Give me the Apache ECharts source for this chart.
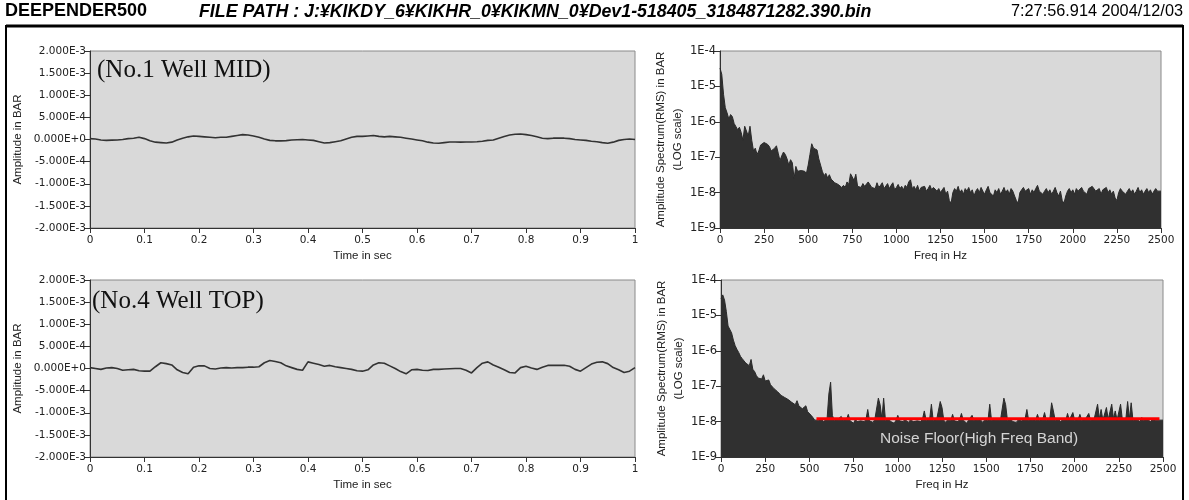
<!DOCTYPE html>
<html><head><meta charset="utf-8">
<script src="https://cdn.jsdelivr.net/npm/echarts@6/dist/echarts.min.js"></script>
<style>html,body{margin:0;padding:0;background:#fff}#c{width:1189px;height:500px}</style>
</head><body><div id="c"></div>
<script>
// ---------- DATA ----------
const headerTitle = 'DEEPENDER500';
const headerPath = 'FILE PATH : J:¥KIKDY_6¥KIKHR_0¥KIKMN_0¥Dev1-518405_3184871282.390.bin';
const headerTime = '7:27:56.914 2004/12/03';
const panelLabels = ['(No.1 Well MID)', '(No.4 Well TOP)'];
const noiseFloorText = 'Noise Floor(High Freq Band)';

const timeSec = [0,0.01,0.02,0.03,0.04,0.05,0.06,0.07,0.08,0.09,
 0.10,0.11,0.12,0.13,0.14,0.15,0.16,0.17,0.18,0.19,
 0.20,0.21,0.22,0.23,0.24,0.25,0.26,0.27,0.28,0.29,
 0.30,0.31,0.32,0.33,0.34,0.35,0.36,0.37,0.38,0.39,
 0.40,0.41,0.42,0.43,0.44,0.45,0.46,0.47,0.48,0.49,
 0.50,0.51,0.52,0.53,0.54,0.55,0.56,0.57,0.58,0.59,
 0.60,0.61,0.62,0.63,0.64,0.65,0.66,0.67,0.68,0.69,
 0.70,0.71,0.72,0.73,0.74,0.75,0.76,0.77,0.78,0.79,
 0.80,0.81,0.82,0.83,0.84,0.85,0.86,0.87,0.88,0.89,
 0.90,0.91,0.92,0.93,0.94,0.95,0.96,0.97,0.98,0.99,1.00];

// amplitude in BAR
const ampMid = [2e-5,1e-5,-1e-5,-2e-5,-1.5e-5,-1e-5,0,2e-5,3e-5,5e-5,
 2e-5,-3e-5,-6e-5,-7e-5,-8e-5,-6e-5,-1e-5,3e-5,6e-5,8e-5,
 7e-5,6e-5,5e-5,4e-5,5e-5,5e-5,7e-5,9e-5,1.1e-4,1.0e-4,
 8e-5,5e-5,1e-5,-2e-5,-3e-5,-3e-5,-2.5e-5,-1e-5,-0.5e-5,0,
 -1e-5,-2e-5,-5e-5,-8e-5,-7e-5,-5e-5,-3e-5,1e-5,5e-5,7e-5,
 7e-5,8e-5,9e-5,7e-5,6e-5,7e-5,6e-5,5e-5,3e-5,1e-5,
 -1e-5,-3e-5,-6e-5,-8e-5,-8.5e-5,-7e-5,-5.5e-5,-5.5e-5,-6e-5,-5.5e-5,
 -5.5e-5,-5e-5,-4e-5,-2e-5,-1e-5,3e-5,7e-5,1.0e-4,1.2e-4,1.25e-4,
 1.1e-4,9e-5,6e-5,3e-5,2e-5,3e-5,3.5e-5,3e-5,2e-5,0,
 -1e-5,-2e-5,-4e-5,-5e-5,-7e-5,-8.5e-5,-6e-5,-2e-5,0,1e-5,0];

const ampTop = [2e-5,0,-2e-5,1e-5,2e-5,0,-4e-5,-3e-5,-2e-5,-5e-5,
 -6e-5,-6e-5,4e-5,1.3e-4,1.1e-4,8e-5,-3e-5,-9e-5,-1.2e-4,3e-5,
 6e-5,6e-5,0,-1e-5,1e-5,2e-5,1e-5,2e-5,2e-5,3e-5,
 3e-5,4e-5,1.3e-4,1.8e-4,1.6e-4,1.3e-4,6e-5,2e-5,-2e-5,-4e-5,
 1.5e-4,1.2e-4,9e-5,5e-5,7e-5,4e-5,2e-5,0,-2e-5,-5e-5,
 -6e-5,-3e-5,8e-5,1.3e-4,1.2e-4,6e-5,0,-7e-5,-1.2e-4,-3e-5,
 -2e-5,-4e-5,-4.5e-5,-2e-5,-2e-5,-1e-5,-0.5e-5,0,0,-4e-5,
 -1.0e-4,2e-5,1.2e-4,1.5e-4,8e-5,3e-5,-3e-5,-9e-5,-1.0e-4,2e-5,
 5e-5,1e-5,-2e-5,3e-5,7e-5,7.5e-5,7e-5,7.5e-5,5e-5,-2e-5,
 -6e-5,2e-5,1.0e-4,1.4e-4,1.5e-4,1.1e-4,2e-5,-3e-5,-9e-5,-6e-5,2e-5];

const freqHz = [0,10,20,30,40,50,60,70,80,90,100,110,120,130,140,150,160,170,180,190,
 200,210,220,230,240,250,260,270,280,290,300,310,320,330,340,350,360,370,380,390,
 400,410,420,430,440,450,460,470,480,490,500,510,520,530,540,550,560,570,580,590,
 600,610,620,630,640,650,660,670,680,690,700,710,720,730,740,750,760,770,780,790,
 800,810,820,830,840,850,860,870,880,890,900,910,920,930,940,950,960,970,980,990,
 1000,1010,1020,1030,1040,1050,1060,1070,1080,1090,1100,1110,1120,1130,1140,1150,1160,1170,1180,1190,
 1200,1210,1220,1230,1240,1250,1260,1270,1280,1290,1300,1310,1320,1330,1340,1350,1360,1370,1380,1390,
 1400,1410,1420,1430,1440,1450,1460,1470,1480,1490,1500,1510,1520,1530,1540,1550,1560,1570,1580,1590,
 1600,1610,1620,1630,1640,1650,1660,1670,1680,1690,1700,1710,1720,1730,1740,1750,1760,1770,1780,1790,
 1800,1810,1820,1830,1840,1850,1860,1870,1880,1890,1900,1910,1920,1930,1940,1950,1960,1970,1980,1990,
 2000,2010,2020,2030,2040,2050,2060,2070,2080,2090,2100,2110,2120,2130,2140,2150,2160,2170,2180,2190,
 2200,2210,2220,2230,2240,2250,2260,2270,2280,2290,2300,2310,2320,2330,2340,2350,2360,2370,2380,2390,
 2400,2410,2420,2430,2440,2450,2460,2470,2480,2490,2500];

// amplitude spectrum (RMS) in BAR
const specMid = [
 3.3e-5,2.2e-5,6e-6,2.5e-6,1.8e-6,1.2e-6,1.6e-6,1.4e-6,9e-7,1.0e-6,
 6e-7,7e-7,5e-7,3e-7,7.5e-7,8e-7,4e-7,7.5e-7,3e-7,1.5e-7,
 1.8e-7,1.2e-7,1.5e-7,2.2e-7,2.0e-7,2.6e-7,2.8e-7,2.3e-7,2.0e-7,1.5e-7,
 1.7e-7,1.8e-7,2.1e-7,1.3e-7,8e-8,1.1e-7,1.4e-7,1.2e-7,9e-8,6e-8,
 8.5e-8,7e-8,2.5e-8,5.5e-8,4e-8,4.5e-8,4.2e-8,3.8e-8,4e-8,3.5e-8,
 6e-8,1.2e-7,2.4e-7,1.8e-7,2.0e-7,1.6e-7,9e-8,6e-8,4e-8,3e-8,
 3.5e-8,2.6e-8,3.2e-8,2.4e-8,2.2e-8,1.9e-8,2.1e-8,1.7e-8,1.5e-8,1.4e-8,
 1.6e-8,1.4e-8,2.0e-8,1.7e-8,3.4e-8,3.7e-8,2.2e-8,3.3e-8,1.5e-8,1.6e-8,
 1.4e-8,1.8e-8,1.5e-8,1.6e-8,2.0e-8,2.1e-8,1.4e-8,1.5e-8,1.3e-8,1.9e-8,
 1.4e-8,1.6e-8,1.9e-8,1.3e-8,1.4e-8,1.8e-8,1.3e-8,1.6e-8,1.9e-8,1.2e-8,
 1.4e-8,1.7e-8,1.3e-8,1.5e-8,1.2e-8,1.6e-8,1.4e-8,2.0e-8,2.3e-8,1.3e-8,
 1.5e-8,1.2e-8,1.6e-8,1.1e-8,1.4e-8,1.3e-8,1.5e-8,1.1e-8,1.3e-8,1.6e-8,
 1.2e-8,1.4e-8,1.5e-8,1.1e-8,1.3e-8,1.0e-8,1.2e-8,1.4e-8,0.9e-8,1.1e-8,
 0.6e-8,0.5e-8,1.0e-8,1.3e-8,1.1e-8,1.5e-8,1.0e-8,1.2e-8,0.9e-8,1.3e-8,
 1.1e-8,1.4e-8,1.0e-8,1.2e-8,0.8e-8,1.1e-8,1.3e-8,1.0e-8,1.4e-8,1.1e-8,
 0.9e-8,1.2e-8,1.5e-8,1.0e-8,1.1e-8,0.8e-8,1.2e-8,1.0e-8,1.3e-8,0.9e-8,
 1.1e-8,1.4e-8,1.0e-8,1.2e-8,0.9e-8,1.3e-8,1.1e-8,0.8e-8,0.6e-8,0.5e-8,
 1.0e-8,1.2e-8,1.4e-8,1.1e-8,1.0e-8,1.3e-8,0.9e-8,1.2e-8,1.0e-8,1.3e-8,
 1.6e-8,1.1e-8,1.2e-8,0.9e-8,1.1e-8,1.3e-8,1.0e-8,1.2e-8,0.9e-8,1.1e-8,
 1.4e-8,1.0e-8,0.8e-8,1.1e-8,0.6e-8,0.5e-8,0.8e-8,1.1e-8,1.3e-8,1.0e-8,
 1.2e-8,0.9e-8,1.3e-8,1.1e-8,1.0e-8,1.4e-8,1.1e-8,1.2e-8,0.9e-8,1.3e-8,
 1.2e-8,1.5e-8,1.6e-8,1.1e-8,1.0e-8,1.3e-8,0.9e-8,1.2e-8,1.1e-8,1.4e-8,
 1.0e-8,1.2e-8,0.9e-8,1.1e-8,0.7e-8,0.6e-8,1.0e-8,1.3e-8,1.1e-8,1.2e-8,
 0.9e-8,1.1e-8,1.3e-8,1.0e-8,1.2e-8,0.9e-8,1.1e-8,1.4e-8,1.0e-8,1.2e-8,
 0.9e-8,1.1e-8,1.3e-8,1.0e-8,1.2e-8,0.9e-8,1.1e-8,1.3e-8,1.1e-8,1.0e-8,
 1.1e-8];

const specTop = [
 3.0e-5,3.8e-5,2.7e-5,1.3e-5,5e-6,5.2e-6,3.2e-6,2.0e-6,1.4e-6,1.1e-6,
 9e-7,7e-7,6e-7,5.5e-7,4.5e-7,5e-7,3.8e-7,5.7e-7,3e-7,2.6e-7,
 2.0e-7,1.7e-7,1.8e-7,1.6e-7,2.1e-7,1.4e-7,1.3e-7,1.5e-7,1.1e-7,1.0e-7,
 8.5e-8,9e-8,7e-8,6.5e-8,5.5e-8,6e-8,4.8e-8,4.5e-8,4.2e-8,4.0e-8,
 3.5e-8,3.3e-8,3.0e-8,3.9e-8,2.8e-8,2.5e-8,2.3e-8,2.2e-8,2.8e-8,1.9e-8,
 1.7e-8,1.5e-8,1.3e-8,1.1e-8,1.0e-8,1.1e-8,1.05e-8,1.15e-8,1.0e-8,1.1e-8,
 1.2e-8,6e-8,1.3e-7,1.5e-8,1.1e-8,1.0e-8,1.15e-8,1.05e-8,1.4e-8,1.1e-8,
 1.0e-8,1.15e-8,1.6e-8,1.05e-8,1.1e-8,0.9e-8,1.15e-8,1.0e-8,1.1e-8,1.05e-8,
 1.1e-8,1.0e-8,1.15e-8,2.2e-8,1.05e-8,1.1e-8,0.95e-8,1.15e-8,1.1e-8,4.6e-8,
 3.0e-8,1.2e-8,4.6e-8,1.1e-8,1.05e-8,1.15e-8,1.0e-8,1.1e-8,0.9e-8,1.1e-8,
 1.5e-8,1.05e-8,1.1e-8,1.0e-8,1.15e-8,1.05e-8,0.95e-8,1.1e-8,1.15e-8,1.0e-8,
 1.1e-8,1.05e-8,1.15e-8,1.0e-8,1.2e-8,2.0e-8,1.1e-8,1.05e-8,1.15e-8,3.1e-8,
 1.1e-8,1.0e-8,1.15e-8,1.2e-8,3.7e-8,2.5e-8,1.1e-8,0.95e-8,1.1e-8,1.05e-8,
 1.1e-8,1.6e-8,1.05e-8,1.1e-8,1.0e-8,1.15e-8,1.7e-8,1.1e-8,1.05e-8,0.9e-8,
 1.1e-8,1.05e-8,1.5e-8,1.1e-8,1.0e-8,1.15e-8,1.05e-8,1.1e-8,0.95e-8,1.1e-8,
 1.15e-8,1.05e-8,3.1e-8,1.1e-8,1.0e-8,1.15e-8,1.1e-8,1.2e-8,1.05e-8,1.1e-8,
 4.6e-8,3.0e-8,1.1e-8,1.05e-8,1.15e-8,1.0e-8,1.1e-8,0.95e-8,1.1e-8,1.15e-8,
 1.05e-8,1.1e-8,1.2e-8,2.2e-8,1.1e-8,1.0e-8,1.15e-8,1.05e-8,1.1e-8,1.6e-8,
 1.1e-8,1.05e-8,1.15e-8,1.8e-8,1.1e-8,1.0e-8,1.2e-8,3.4e-8,2.0e-8,1.1e-8,
 1.05e-8,1.15e-8,1.0e-8,1.1e-8,1.2e-8,1.05e-8,1.7e-8,1.1e-8,1.0e-8,1.8e-8,
 1.1e-8,1.05e-8,1.15e-8,1.6e-8,1.1e-8,1.0e-8,1.15e-8,1.05e-8,1.7e-8,1.1e-8,
 1.05e-8,1.15e-8,1.1e-8,3.1e-8,1.2e-8,2.2e-8,1.1e-8,1.05e-8,2.5e-8,1.15e-8,
 1.1e-8,3.1e-8,1.2e-8,2.0e-8,1.1e-8,1.05e-8,3.1e-8,1.15e-8,1.1e-8,1.2e-8,
 3.7e-8,1.2e-8,3.4e-8,1.1e-8,1.05e-8,1.15e-8,1.1e-8,1.0e-8,1.3e-8,1.1e-8,
 1.05e-8,1.15e-8,1.1e-8,1.0e-8,1.15e-8,1.05e-8,1.1e-8,1.2e-8,1.1e-8,1.05e-8,
 1.1e-8];

// red noise-floor marker (freq Hz, amplitude)
const noiseFloorFreq = [540, 2480];
const noiseFloorAmp = [1.2e-8, 1.2e-8];

// ---------- CHART ----------
const chart = echarts.init(document.getElementById('c'), null, {renderer:'canvas'});
const tickFont = {color:'#222', fontFamily:'DejaVu Sans', fontSize:10.5};
const nameFont = {color:'#222', fontFamily:'Liberation Sans', fontSize:11.5};
const axisLine = {show:true, onZero:false, lineStyle:{color:'#333', width:1}};
const axisTick = {show:true, length:5, lineStyle:{color:'#333'}};
const plotBg = '#d9d9d9';

function ampFmt(v){
  if (Math.abs(v) < 1e-12) return '0.000E+0';
  return v.toExponential(3).toUpperCase();
}
function logFmt(v){ return '1E' + Math.round(Math.log10(v)); }
function plainFmt(v){ return String(v); }

const grids = [
  {left:90, top:51, width:545, height:177},
  {left:720, top:51, width:441, height:177},
  {left:90, top:280, width:545, height:177},
  {left:721, top:280, width:442, height:177}
].map(g => Object.assign({show:true, backgroundColor:plotBg, borderColor:'#8a8a8a', borderWidth:1}, g));

function timeX(i){ return {gridIndex:i, type:'value', min:0, max:1, interval:0.1,
  name:'Time in sec', nameLocation:'middle', nameGap:22, nameTextStyle:nameFont,
  axisLine, axisTick, axisLabel:Object.assign({margin:7}, tickFont), splitLine:{show:false}}; }
function freqX(i){ return {gridIndex:i, type:'value', min:0, max:2500, interval:250,
  name:'Freq in Hz', nameLocation:'middle', nameGap:22, nameTextStyle:nameFont,
  axisLine, axisTick, axisLabel:Object.assign({margin:7, formatter:plainFmt}, tickFont), splitLine:{show:false}}; }
function ampY(i){ return {gridIndex:i, type:'value', min:-2e-3, max:2e-3, interval:5e-4,
  name:'Amplitude in BAR', nameLocation:'middle', nameGap:66, nameTextStyle:nameFont,
  axisLine, axisTick, axisLabel:Object.assign({margin:4, formatter:ampFmt}, tickFont), splitLine:{show:false}}; }
function specY(i){ return {gridIndex:i, type:'log', logBase:10, min:1e-9, max:1e-4,
  name:'Amplitude Spectrum(RMS) in BAR\n(LOG scale)', nameLocation:'middle', nameGap:33,
  nameTextStyle:Object.assign({lineHeight:17}, nameFont),
  axisLine, axisTick, axisLabel:Object.assign({margin:4, formatter:logFmt}, tickFont, {fontSize:11.5}), splitLine:{show:false}}; }

const lineCommon = {type:'line', symbol:'none', silent:true, animation:false};

const option = {
  animation:false,
  backgroundColor:'#ffffff',
  grid: grids,
  xAxis:[timeX(0), freqX(1), timeX(2), freqX(3)],
  yAxis:[ampY(0), specY(1), ampY(2), specY(3)],
  series:[
    Object.assign({xAxisIndex:0, yAxisIndex:0, data:timeSec.map((t,i)=>[t, ampMid[i]]),
      lineStyle:{color:'#333333', width:1.6}}, lineCommon),
    Object.assign({xAxisIndex:1, yAxisIndex:1, data:freqHz.map((f,i)=>[f, specMid[i]]),
      lineStyle:{color:'#2a2a2a', width:1}, areaStyle:{color:'#303030', opacity:1, origin:'start'}}, lineCommon),
    Object.assign({xAxisIndex:2, yAxisIndex:2, data:timeSec.map((t,i)=>[t, ampTop[i]]),
      lineStyle:{color:'#333333', width:1.6}}, lineCommon),
    Object.assign({xAxisIndex:3, yAxisIndex:3, data:freqHz.map((f,i)=>[f, specTop[i]]),
      lineStyle:{color:'#2a2a2a', width:1}, areaStyle:{color:'#303030', opacity:1, origin:'start'}}, lineCommon),
    Object.assign({xAxisIndex:3, yAxisIndex:3, z:5, data:noiseFloorFreq.map((f,i)=>[f, noiseFloorAmp[i]]),
      lineStyle:{color:'#ff0000', width:3}}, lineCommon)
  ],
  graphic:[
    {type:'rect', shape:{x:6, y:26, width:1177, height:480}, style:{fill:'none', stroke:'#000', lineWidth:2}, z:10},
    {type:'line', shape:{x1:6, y1:26, x2:1183, y2:26}, style:{stroke:'#000', lineWidth:3}, z:10},
    {type:'text', left:5, top:2, style:{text:headerTitle, font:'bold 18px "Liberation Sans"', fill:'#000'}, z:10},
    {type:'text', left:199, top:3, style:{text:headerPath, font:'italic bold 17.8px "Liberation Sans"', fill:'#000'}, z:10},
    {type:'text', right:6, top:4, style:{text:headerTime, font:'16.3px "Liberation Sans"', fill:'#000'}, z:10},
    {type:'text', left:97, top:58, style:{text:panelLabels[0], font:'25px "Liberation Serif"', fill:'#111'}, z:10},
    {type:'text', left:92, top:289, style:{text:panelLabels[1], font:'25px "Liberation Serif"', fill:'#111'}, z:10},
    {type:'text', left:880, top:431, style:{text:noiseFloorText, font:'15.5px "Liberation Sans"', fill:'#d4d4d4'}, z:10}
  ]
};
chart.setOption(option);
</script>
</body></html>
